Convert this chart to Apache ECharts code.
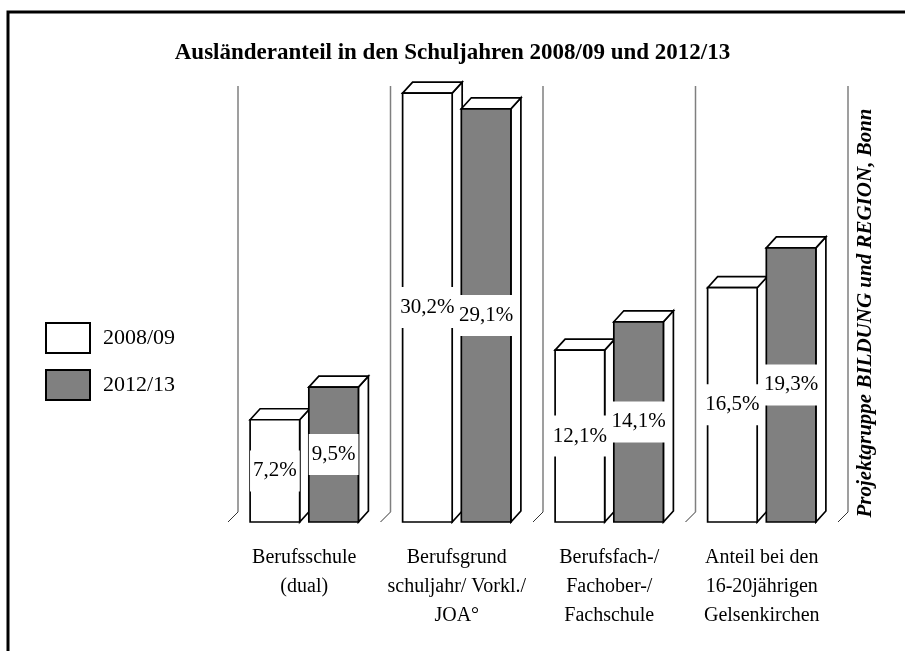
<!DOCTYPE html>
<html>
<head>
<meta charset="utf-8">
<script src="https://cdn.jsdelivr.net/npm/echarts@6/dist/echarts.min.js"></script>
<style>
  html, body { margin: 0; padding: 0; background: #fff; }
  #chart { width: 905px; height: 651px; }
</style>
</head>
<body>
<div id="chart"></div>
<script>
var categories = [
    'Berufsschule\n(dual)',
    'Berufsgrund\nschuljahr/ Vorkl./\nJOA°',
    'Berufsfach-/\nFachober-/\nFachschule',
    'Anteil bei den\n16-20jährigen\nGelsenkirchen'
];
var seriesNames = ['2008/09', '2012/13'];
var values0809 = [7.2, 30.2, 12.1, 16.5];
var values1213 = [9.5, 29.1, 14.1, 19.3];
var wallTop = 30;   // Höhe der Trennwände (Wert)

var FONT = '"Liberation Serif", "Times New Roman", serif';
var DEPTH = 10;     // 3D-Tiefe in px

function fmt(v) {
    return String(v).replace('.', ',') + '%';
}

// 3D-Säule: Vorderseite, Deckel, rechte Seite + Wertlabel
function makeBox(idx, fill) {
    return function (params, api) {
        var cat = api.value(0), val = api.value(1);
        var base = api.coord([cat, 0]);
        var top = api.coord([cat, val]);
        var band = api.size([1, 0])[0];
        var w = band * 0.325, g = band * 0.03;
        var x0 = idx === 0 ? base[0] - g - w : base[0] + g;
        var x1 = x0 + w, yb = base[1], yt = top[1], d = DEPTH;
        var line = {stroke: '#000', lineWidth: 1.7};
        return {
            type: 'group',
            children: [
                {type: 'polygon', shape: {points: [[x1, yt], [x1 + d, yt - d - 1], [x1 + d, yb - d - 1], [x1, yb]]},
                    style: Object.assign({fill: '#fff'}, line)},
                {type: 'polygon', shape: {points: [[x0, yt], [x0 + d, yt - d - 1], [x1 + d, yt - d - 1], [x1, yt]]},
                    style: Object.assign({fill: '#fff'}, line)},
                {type: 'rect', shape: {x: x0, y: yt, width: w, height: yb - yt},
                    style: Object.assign({fill: fill}, line)},
                {type: 'text', z2: 10, style: {
                    text: fmt(val), x: (x0 + x1) / 2, y: (yt + yb) / 2,
                    align: 'center', verticalAlign: 'middle',
                    font: '21px ' + FONT, fill: '#000',
                    backgroundColor: '#fff', padding: [10, 3]
                }}
            ]
        };
    };
}

// Trennwände zwischen den Kategorien
function renderWall(params, api) {
    var cat = api.value(0);
    var base = api.coord([cat, 0]);
    var top = api.coord([cat, api.value(1)]);
    var band = api.size([1, 0])[0];
    var d = DEPTH, children = [];
    var xs = [base[0] - band / 2];
    if (cat === categories.length - 1) xs.push(base[0] + band / 2);
    xs.forEach(function (bx) {
        children.push({type: 'line', shape: {x1: bx + d, y1: base[1] - d, x2: bx + d, y2: top[1] - d},
            style: {stroke: '#7f7f7f', lineWidth: 1.5}});
        children.push({type: 'line', shape: {x1: bx, y1: base[1], x2: bx + d, y2: base[1] - d},
            style: {stroke: '#333', lineWidth: 1}});
    });
    return {type: 'group', children: children};
}

var myChart = echarts.init(document.getElementById('chart'));

var option = {
    animation: false,
    backgroundColor: '#fff',
    title: {
        text: 'Ausländeranteil in den Schuljahren 2008/09 und 2012/13',
        left: 'center',
        top: 37,
        textStyle: {fontFamily: FONT, fontSize: 23, fontWeight: 'bold', color: '#000'}
    },
    legend: {
        orient: 'vertical',
        left: 45,
        top: 322,
        padding: 0,
        itemWidth: 44,
        itemHeight: 30,
        itemGap: 15,
        data: [
            {name: seriesNames[0], icon: 'rect', itemStyle: {color: '#fff', borderColor: '#000', borderWidth: 2}},
            {name: seriesNames[1], icon: 'rect', itemStyle: {color: '#808080', borderColor: '#000', borderWidth: 2}}
        ],
        textStyle: {fontFamily: FONT, fontSize: 22, color: '#000', padding: [0, 0, 0, 8]}
    },
    grid: {left: 228, right: 67, top: 25, bottom: 129},
    xAxis: {
        type: 'category',
        data: categories,
        axisLine: {show: false},
        axisTick: {show: false},
        splitLine: {show: false},
        axisLabel: {
            interval: 0,
            margin: 21,
            fontFamily: FONT,
            fontSize: 20,
            lineHeight: 29,
            color: '#000'
        }
    },
    yAxis: {
        type: 'value',
        min: 0,
        max: 35,
        show: false
    },
    series: [
        {
            type: 'custom',
            name: 'walls',
            z: 1,
            silent: true,
            renderItem: renderWall,
            data: categories.map(function (c, i) { return [i, wallTop]; })
        },
        {
            type: 'custom',
            name: seriesNames[0],
            z: 2,
            itemStyle: {color: '#fff'},
            renderItem: makeBox(0, '#fff'),
            data: values0809.map(function (v, i) { return [i, v]; })
        },
        {
            type: 'custom',
            name: seriesNames[1],
            z: 3,
            itemStyle: {color: '#808080'},
            renderItem: makeBox(1, '#808080'),
            data: values1213.map(function (v, i) { return [i, v]; })
        }
    ],
    graphic: [
        {
            type: 'rect',
            shape: {x: 8, y: 12, width: 940, height: 700},
            style: {fill: 'none', stroke: '#000', lineWidth: 3},
            silent: true
        },
        {
            type: 'text',
            x: 866,
            y: 313,
            rotation: Math.PI / 2,
            style: {
                text: 'Projektgruppe BILDUNG und REGION, Bonn',
                align: 'center',
                verticalAlign: 'middle',
                font: 'italic bold 21px ' + FONT,
                fill: '#000'
            }
        }
    ]
};

myChart.setOption(option);
</script>
</body>
</html>
